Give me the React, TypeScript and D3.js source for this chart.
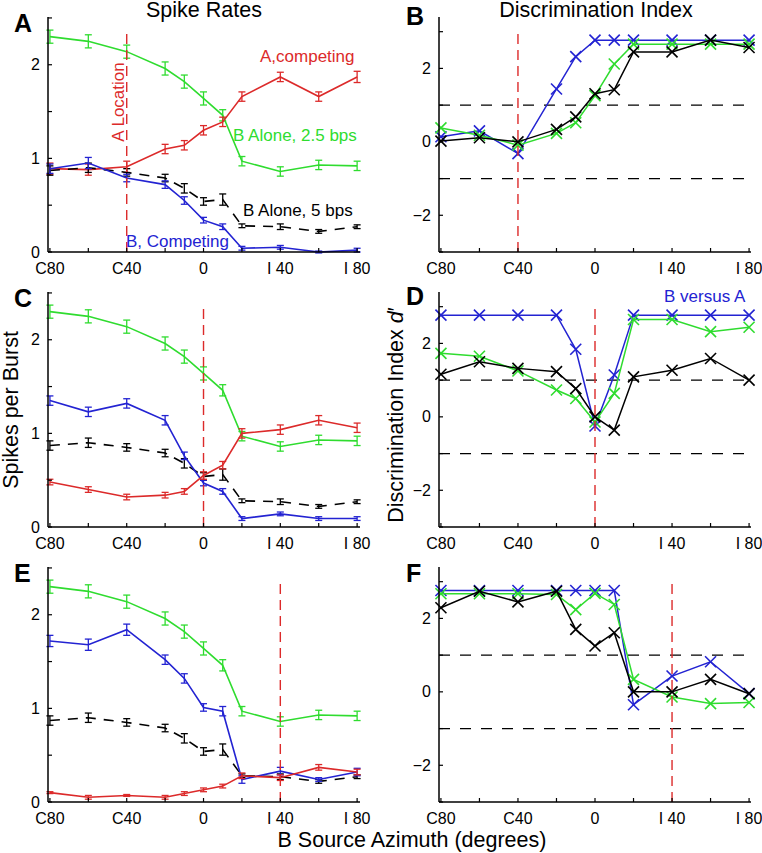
import React from "react";
import * as d3 from "d3";

// ---------- data ----------
const azimuth = [-80, -60, -40, -20, -10, 0, 10, 20, 40, 60, 80];
const xTickValues = [-80, -60, -40, -20, 0, 20, 40, 60, 80];
const xTickLabels = ["C80", "", "C40", "", "0", "", "I 40", "", "I 80"];
const rateTicks = [0, 0.5, 1, 1.5, 2, 2.5];
const rateTickLabels = ["0", "", "1", "", "2", ""];
const dTicks = [-3, -2, -1, 0, 1, 2, 3];
const dTickLabels = ["", "\u22122", "", "0", "", "2", ""];

// shared "B alone" rates
const bAlone25 = [2.3, 2.25, 2.14, 1.96, 1.82, 1.64, 1.46, 0.97, 0.86, 0.93, 0.92];
const bAlone25Err = [0.07, 0.07, 0.07, 0.07, 0.07, 0.07, 0.06, 0.05, 0.05, 0.05, 0.05];
const bAlone5 = [0.87, 0.9, 0.85, 0.79, 0.68, 0.54, 0.56, 0.28, 0.27, 0.22, 0.27];
const bAlone5Err = [0.05, 0.05, 0.04, 0.04, 0.05, 0.04, 0.06, 0.02, 0.03, 0.02, 0.02];

// panel A (A at C40)
const aCompA = [0.89, 0.88, 0.91, 1.1, 1.14, 1.3, 1.39, 1.66, 1.87, 1.66, 1.87];
const aCompAErr = [0.06, 0.06, 0.06, 0.05, 0.05, 0.05, 0.05, 0.05, 0.05, 0.05, 0.06];
const bCompA = [0.89, 0.95, 0.79, 0.72, 0.55, 0.34, 0.27, 0.04, 0.05, 0.0, 0.02];
const bCompAErr = [0.05, 0.06, 0.04, 0.04, 0.04, 0.03, 0.03, 0.02, 0.02, 0.01, 0.02];
// panel C (A at 0)
const aCompC = [0.48, 0.4, 0.32, 0.34, 0.38, 0.55, 0.66, 1.0, 1.04, 1.14, 1.06];
const aCompCErr = [0.03, 0.03, 0.03, 0.03, 0.03, 0.04, 0.04, 0.05, 0.05, 0.05, 0.05];
const bCompC = [1.35, 1.23, 1.32, 1.14, 0.76, 0.47, 0.38, 0.09, 0.14, 0.09, 0.09];
const bCompCErr = [0.05, 0.05, 0.05, 0.05, 0.04, 0.03, 0.03, 0.02, 0.02, 0.02, 0.02];
// panel E (A at I40)
const aCompE = [0.1, 0.05, 0.07, 0.05, 0.09, 0.13, 0.17, 0.28, 0.26, 0.37, 0.32];
const aCompEErr = [0.01, 0.02, 0.01, 0.02, 0.02, 0.02, 0.02, 0.03, 0.03, 0.03, 0.03];
const bCompE = [1.72, 1.68, 1.84, 1.52, 1.32, 1.01, 0.97, 0.24, 0.33, 0.24, 0.32];
const bCompEErr = [0.06, 0.06, 0.06, 0.05, 0.05, 0.04, 0.05, 0.04, 0.04, 0.02, 0.04];

// discrimination indices
const dBlueB = [0.14, 0.3, -0.32, 1.44, 2.32, 2.77, 2.77, 2.77, 2.77, 2.77, 2.77];
const dGreenB = [0.38, 0.18, -0.09, 0.23, 0.52, 1.26, 2.12, 2.66, 2.66, 2.66, 2.66];
const dBlackB = [0.02, 0.11, 0.0, 0.34, 0.68, 1.31, 1.42, 2.45, 2.45, 2.77, 2.57];
const dBlueD = [2.77, 2.77, 2.77, 2.77, 1.84, -0.25, 1.14, 2.77, 2.77, 2.77, 2.77];
const dGreenD = [1.73, 1.65, 1.25, 0.73, 0.5, -0.14, 0.64, 2.65, 2.65, 2.32, 2.44];
const dBlackD = [1.16, 1.5, 1.32, 1.23, 0.77, 0.0, -0.36, 1.09, 1.27, 1.59, 1.0];
const dBlueF = [2.76, 2.76, 2.76, 2.76, 2.76, 2.76, 2.76, -0.35, 0.43, 0.82, -0.05];
const dGreenF = [2.67, 2.67, 2.67, 2.65, 2.24, 2.68, 2.38, 0.34, -0.14, -0.32, -0.29];
const dBlackF = [2.29, 2.74, 2.45, 2.74, 1.7, 1.25, 1.61, 0.0, 0.0, 0.34, -0.05];

const aLocations = [-40, 0, 40];

// ---------- styling ----------
const GREEN = "#2fdc2f";
const RED = "#dc2a2a";
const BLUE = "#2323d2";
const BLACK = "#000";
const FONT = "'Liberation Sans', Arial, Helvetica, sans-serif";

const W = 762;
const H = 853;
const rowTops = [17, 292, 567];
const plotH = 235;
const leftX: [number, number] = [48, 360];
const rightX: [number, number] = [439, 751];

type RateSeries = { v: number[]; e: number[]; color: string; dashed?: boolean };

function XAxis({ x, y0 }: { x: d3.ScaleLinear<number, number>; y0: number }) {
  const [r0, r1] = x.range();
  return (
    <g>
      <line x1={r0} x2={r1} y1={y0} y2={y0} stroke="#000" strokeWidth={1.5} />
      {xTickValues.map((t, i) => (
        <g key={t}>
          <line x1={x(t)} x2={x(t)} y1={y0} y2={y0 - 4} stroke="#000" strokeWidth={1.2} />
          {xTickLabels[i] && (
            <text x={x(t)} y={y0 + 22} textAnchor="middle" fontSize={16} fontFamily={FONT}>
              {xTickLabels[i]}
            </text>
          )}
        </g>
      ))}
    </g>
  );
}

function YAxis({
  y,
  x0,
  ticks,
  labels,
}: {
  y: d3.ScaleLinear<number, number>;
  x0: number;
  ticks: number[];
  labels: string[];
}) {
  const [r0, r1] = y.range();
  return (
    <g>
      <line x1={x0} x2={x0} y1={r0} y2={r1} stroke="#000" strokeWidth={1.5} />
      {ticks.map((t, i) => (
        <g key={t}>
          <line x1={x0} x2={x0 + 4} y1={y(t)} y2={y(t)} stroke="#000" strokeWidth={1.2} />
          {labels[i] && (
            <text
              x={x0 - 8}
              y={y(t)}
              dy="0.35em"
              textAnchor="end"
              fontSize={16}
              fontFamily={FONT}
            >
              {labels[i]}
            </text>
          )}
        </g>
      ))}
    </g>
  );
}

function RatePanel({ top, series, aLoc, letter, letterY }: { top: number; series: RateSeries[]; aLoc: number; letter: string; letterY: number }) {
  const x = d3.scaleLinear().domain([-81, 81.5]).range(leftX);
  const y = d3.scaleLinear().domain([0, 2.51]).range([top + plotH, top]);
  const line = d3
    .line<number>()
    .x((_, i) => x(azimuth[i]))
    .y((d) => y(d));
  return (
    <g>
      <text x={14} y={letterY} fontSize={25} fontWeight="bold" fontFamily={FONT}>
        {letter}
      </text>
      {series.map((s, k) => (
        <g key={k}>
          <path
            d={line(s.v) || ""}
            fill="none"
            stroke={s.color}
            strokeWidth={1.6}
            strokeDasharray={s.dashed ? "10,8" : undefined}
          />
          {s.v.map((v, i) => {
            const cx = x(azimuth[i]);
            const ya = y(v + s.e[i]);
            const yb = y(v - s.e[i]);
            return (
              <g key={i} stroke={s.color} strokeWidth={1.3}>
                <line x1={cx} x2={cx} y1={ya} y2={yb} />
                <line x1={cx - 3.5} x2={cx + 3.5} y1={ya} y2={ya} />
                <line x1={cx - 3.5} x2={cx + 3.5} y1={yb} y2={yb} />
              </g>
            );
          })}
        </g>
      ))}
      <line
        x1={x(aLoc)}
        x2={x(aLoc)}
        y1={y(0)}
        y2={y(2.36)}
        stroke={RED}
        strokeWidth={1.4}
        strokeDasharray="10,6"
      />
      <YAxis y={y} x0={leftX[0]} ticks={rateTicks} labels={rateTickLabels} />
      <XAxis x={x} y0={top + plotH} />
    </g>
  );
}

function Cross({ cx, cy, color }: { cx: number; cy: number; color: string }) {
  const s = 5.5;
  return (
    <g stroke={color} strokeWidth={1.6}>
      <line x1={cx - s} x2={cx + s} y1={cy - s} y2={cy + s} />
      <line x1={cx - s} x2={cx + s} y1={cy + s} y2={cy - s} />
    </g>
  );
}

function DPanel({
  top,
  blue,
  green,
  black,
  aLoc,
  letter,
  letterY,
  children,
}: {
  top: number;
  blue: number[];
  green: number[];
  black: number[];
  aLoc: number;
  letter: string;
  letterY: number;
  children?: React.ReactNode;
}) {
  const x = d3.scaleLinear().domain([-81, 81]).range(rightX);
  const y = d3.scaleLinear().domain([-3, 3.4]).range([top + plotH, top]);
  const line = d3
    .line<number>()
    .x((_, i) => x(azimuth[i]))
    .y((d) => y(d));
  const series = [
    { v: blue, c: BLUE },
    { v: green, c: GREEN },
    { v: black, c: BLACK },
  ];
  return (
    <g>
      <text x={406} y={letterY} fontSize={25} fontWeight="bold" fontFamily={FONT}>
        {letter}
      </text>
      {[-1, 1].map((c) => (
        <line
          key={c}
          x1={rightX[0]}
          x2={rightX[1]}
          y1={y(c)}
          y2={y(c)}
          stroke="#000"
          strokeWidth={1.3}
          strokeDasharray="11,10"
        />
      ))}
      {series.map((s, k) => (
        <g key={k}>
          <path d={line(s.v) || ""} fill="none" stroke={s.c} strokeWidth={1.5} />
          {s.v.map((v, i) => (
            <Cross key={i} cx={x(azimuth[i])} cy={y(v)} color={s.c} />
          ))}
        </g>
      ))}
      <line
        x1={x(aLoc)}
        x2={x(aLoc)}
        y1={y(-3)}
        y2={y(3)}
        stroke={RED}
        strokeWidth={1.4}
        strokeDasharray="10,6"
      />
      <YAxis y={y} x0={rightX[0]} ticks={dTicks} labels={dTickLabels} />
      <XAxis x={x} y0={top + plotH} />
      {children}
    </g>
  );
}

export default function App() {
  const greenS: RateSeries = { v: bAlone25, e: bAlone25Err, color: GREEN };
  const blackS: RateSeries = { v: bAlone5, e: bAlone5Err, color: BLACK, dashed: true };
  return (
    <div style={{ position: "absolute", left: 0, top: 0 }}>
      <svg width={W} height={H} viewBox={`0 0 ${W} ${H}`} style={{ display: "block", background: "#fff" }}>
        <rect width={W} height={H} fill="#fff" />
        <text x={204} y={17} textAnchor="middle" fontSize={21.5} fontFamily={FONT}>
          Spike Rates
        </text>
        <text x={596} y={17} textAnchor="middle" fontSize={21.5} fontFamily={FONT}>
          Discrimination Index
        </text>

        <RatePanel
          top={rowTops[0]}
          aLoc={aLocations[0]}
          letter="A"
          letterY={32}
          series={[
            greenS,
            { v: aCompA, e: aCompAErr, color: RED },
            blackS,
            { v: bCompA, e: bCompAErr, color: BLUE },
          ]}
        />
        <RatePanel
          top={rowTops[1]}
          aLoc={aLocations[1]}
          letter="C"
          letterY={307}
          series={[
            greenS,
            blackS,
            { v: bCompC, e: bCompCErr, color: BLUE },
            { v: aCompC, e: aCompCErr, color: RED },
          ]}
        />
        <RatePanel
          top={rowTops[2]}
          aLoc={aLocations[2]}
          letter="E"
          letterY={582}
          series={[
            greenS,
            blackS,
            { v: bCompE, e: bCompEErr, color: BLUE },
            { v: aCompE, e: aCompEErr, color: RED },
          ]}
        />

        <DPanel top={rowTops[0]} blue={dBlueB} green={dGreenB} black={dBlackB} aLoc={aLocations[0]} letter="B" letterY={25} />
        <DPanel top={rowTops[1]} blue={dBlueD} green={dGreenD} black={dBlackD} aLoc={aLocations[1]} letter="D" letterY={305}>
          <text x={664} y={302} fontSize={17} fill={BLUE} fontFamily={FONT}>
            B versus A
          </text>
        </DPanel>
        <DPanel top={rowTops[2]} blue={dBlueF} green={dGreenF} black={dBlackF} aLoc={aLocations[2]} letter="F" letterY={582} />

        {/* annotations in A */}
        <text x={260} y={62} fontSize={17} fill={RED} fontFamily={FONT}>
          A,competing
        </text>
        <text x={233} y={141} fontSize={17} fill={GREEN} fontFamily={FONT}>
          B Alone, 2.5 bps
        </text>
        <text x={243} y={216} fontSize={17} fill={BLACK} fontFamily={FONT}>
          B Alone, 5 bps
        </text>
        <text x={126} y={247} fontSize={17} fill={BLUE} fontFamily={FONT}>
          B, Competing
        </text>
        <text
          transform="translate(124,102) rotate(-90)"
          textAnchor="middle"
          fontSize={17}
          fill={RED}
          fontFamily={FONT}
        >
          A Location
        </text>

        {/* axis titles */}
        <text
          transform="translate(18,410) rotate(-90)"
          textAnchor="middle"
          fontSize={21.5}
          fontFamily={FONT}
        >
          Spikes per Burst
        </text>
        <text
          transform="translate(403,415) rotate(-90)"
          textAnchor="middle"
          fontSize={21.5}
          fontFamily={FONT}
        >
          Discrimination Index <tspan fontStyle="italic">d</tspan>{"\u2032"}
        </text>
        <text x={412} y={847} textAnchor="middle" fontSize={21.5} fontFamily={FONT}>
          B Source Azimuth (degrees)
        </text>
      </svg>
    </div>
  );
}
